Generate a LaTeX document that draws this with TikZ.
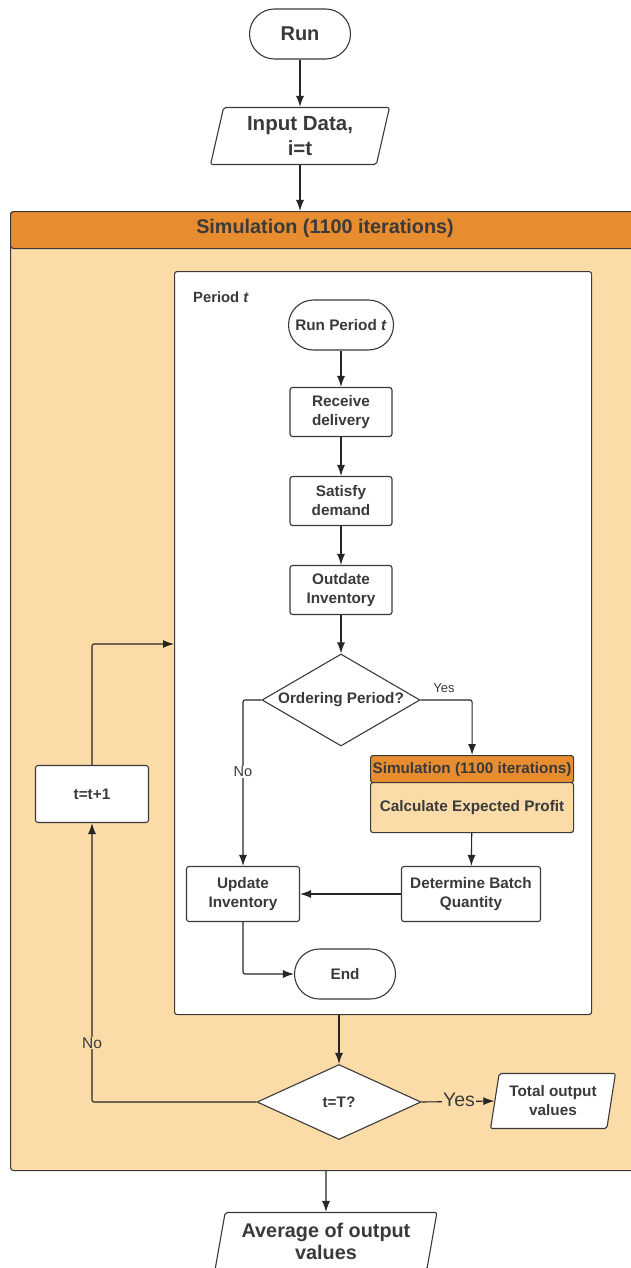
\documentclass[tikz,border=0pt]{standalone}
\usepackage{fontspec}
\setmainfont{Liberation Sans}
\usetikzlibrary{shapes.geometric,arrows.meta,positioning}

\definecolor{simorange}{HTML}{E88D2F}
\definecolor{simbody}{HTML}{FBDBA8}
\definecolor{inkgrey}{HTML}{3A3A3A}

\tikzset{
    box/.style={draw=inkgrey, line width=1.1pt, rounded corners=2.5pt, fill=white, inner sep=0pt,
        align=center, text=inkgrey, font=\bfseries\fontsize{15.3}{19}\selectfont},
    term/.style={box, rounded corners=25pt},
    decide/.style={diamond, draw=inkgrey, line width=1.1pt, fill=white, inner sep=0pt,
        text=inkgrey, font=\bfseries\fontsize{15.3}{19}\selectfont},
    io/.style={trapezium, trapezium left angle=77, trapezium right angle=103, trapezium stretches=true,
        draw=inkgrey, line width=1.1pt, rounded corners=2pt, fill=white, inner sep=0pt, align=center,
        text=inkgrey, font=\bfseries\fontsize{15.3}{19}\selectfont},
    flow/.style={-{Latex[length=11pt,width=8pt]}, line width=1.1pt, draw=black!85, rounded corners=2pt},
    tag/.style={inner sep=1pt, text=inkgrey, font=\fontsize{13}{15}\selectfont}
}

\begin{document}
\begin{tikzpicture}[x=1pt,y=1pt,yscale=-1,xscale=1]

            \useasboundingbox (0,0) rectangle (631,1268);

            % Frames
            \node [draw=inkgrey, line width=1.1pt, fill=simbody, rounded corners=3pt, inner sep=0pt,
                   minimum width=640pt, minimum height=959pt, anchor=north west] (simbox) at (10,211) {};
            \node [draw=inkgrey, line width=1.1pt, fill=simorange, rounded corners=3pt, inner sep=0pt,
                   minimum width=640pt, minimum height=37pt, anchor=north west] (simhead) at (10,211) {};
            \node [text=inkgrey, font=\bfseries\fontsize{19.8}{22}\selectfont] (simtitle) at (325,228) {Simulation (1100 iterations)};
            \node [box, minimum width=417pt, minimum height=743pt, anchor=north west] (period) at (174,271) {};
            \node [anchor=west, inner sep=0pt, text=inkgrey, font=\bfseries\fontsize{14.8}{16}\selectfont] (periodlbl) at (193,297) {Period \textit{t}};

            % Boxes
            \node [term, minimum width=101pt, minimum height=50pt, font=\bfseries\fontsize{20}{22}\selectfont] (run) at (300,34) {Run};
            \node [io, minimum width=179pt, minimum height=57pt, font=\bfseries\fontsize{20.5}{25}\selectfont] (input) at (300,136) {Input Data,\\i=t};
            \node [term, minimum width=105pt, minimum height=50pt] (runp) at (341,325) {Run Period \textit{t}};
            \node [box, minimum width=102pt, minimum height=49pt] (recv) at (341,412) {Receive\\delivery};
            \node [box, minimum width=102pt, minimum height=49pt] (satisfy) at (341,501) {Satisfy\\demand};
            \node [box, minimum width=102pt, minimum height=49pt] (outdate) at (341,590) {Outdate\\Inventory};
            \node [decide, minimum width=158pt, minimum height=92pt] (order) at (341,700) {\makebox[0pt]{Ordering Period?}};
            \node [box, fill=simorange, minimum width=203pt, minimum height=27pt, anchor=north west] (subhead) at (370,755) {\makebox[0pt]{Simulation (1100 iterations)}};
            \node [box, fill=simbody, minimum width=203pt, minimum height=50pt, anchor=north west] (calc) at (370,782) {Calculate Expected Profit};
            \node [box, minimum width=139pt, minimum height=55pt] (batch) at (471,894) {Determine Batch\\Quantity};
            \node [box, minimum width=113pt, minimum height=55pt] (update) at (243,894) {Update\\Inventory};
            \node [term, minimum width=101pt, minimum height=50pt] (endn) at (345,974) {End};
            \node [decide, minimum width=164pt, minimum height=75pt] (tT) at (339,1102) {\makebox[0pt]{t=T?}};
            \node [io, minimum width=125pt, minimum height=55pt] (total) at (553,1101) {Total output\\values};
            \node [box, minimum width=113pt, minimum height=57pt] (incr) at (92,794) {t=t+1};
            \node [io, minimum width=222pt, minimum height=57pt, font=\bfseries\fontsize{19.8}{22}\selectfont] (avg) at (326,1241) {Average of output\\values};
            \coordinate (loopin) at (174,644);

            % Arrows
            \draw [flow] (run) -- (input);
            \draw [flow] (input) -- (input |- simhead.north);
            \draw [flow] (runp) -- (recv);
            \draw [flow] (recv) -- (satisfy);
            \draw [flow] (satisfy) -- (outdate);
            \draw [flow] (outdate) -- (order);
            \draw [flow] (order.east) -| (subhead.north);
            \draw [flow] (order.west) -| (update.north);
            \draw [flow] (calc) -- (batch);
            \draw [flow] (batch) -- (update);
            \draw [flow] (update.south) |- (endn.west);
            \draw [flow] (tT |- period.south) -- (tT.north);
            \draw [flow] (tT.east) -- (total.west);
            \draw [flow] (tT.west) -| (incr.south);
            \draw [flow] (incr.north) |- (loopin);
            \draw [flow] (avg |- simbox.south) -- (avg.north);

            % Labels
            \node [tag] (yesord) at (444,688) {Yes};
            \node [tag, fill=white, font=\fontsize{14.5}{16}\selectfont] (noord) at (243,772) {No};
            \node [tag, fill=simbody, font=\fontsize{15.5}{17}\selectfont] (noT) at (92,1043) {No};
            \node [tag, fill=simbody, font=\fontsize{19.5}{21}\selectfont] (yesT) at (459,1100) {Yes};

\end{tikzpicture}
\end{document}
